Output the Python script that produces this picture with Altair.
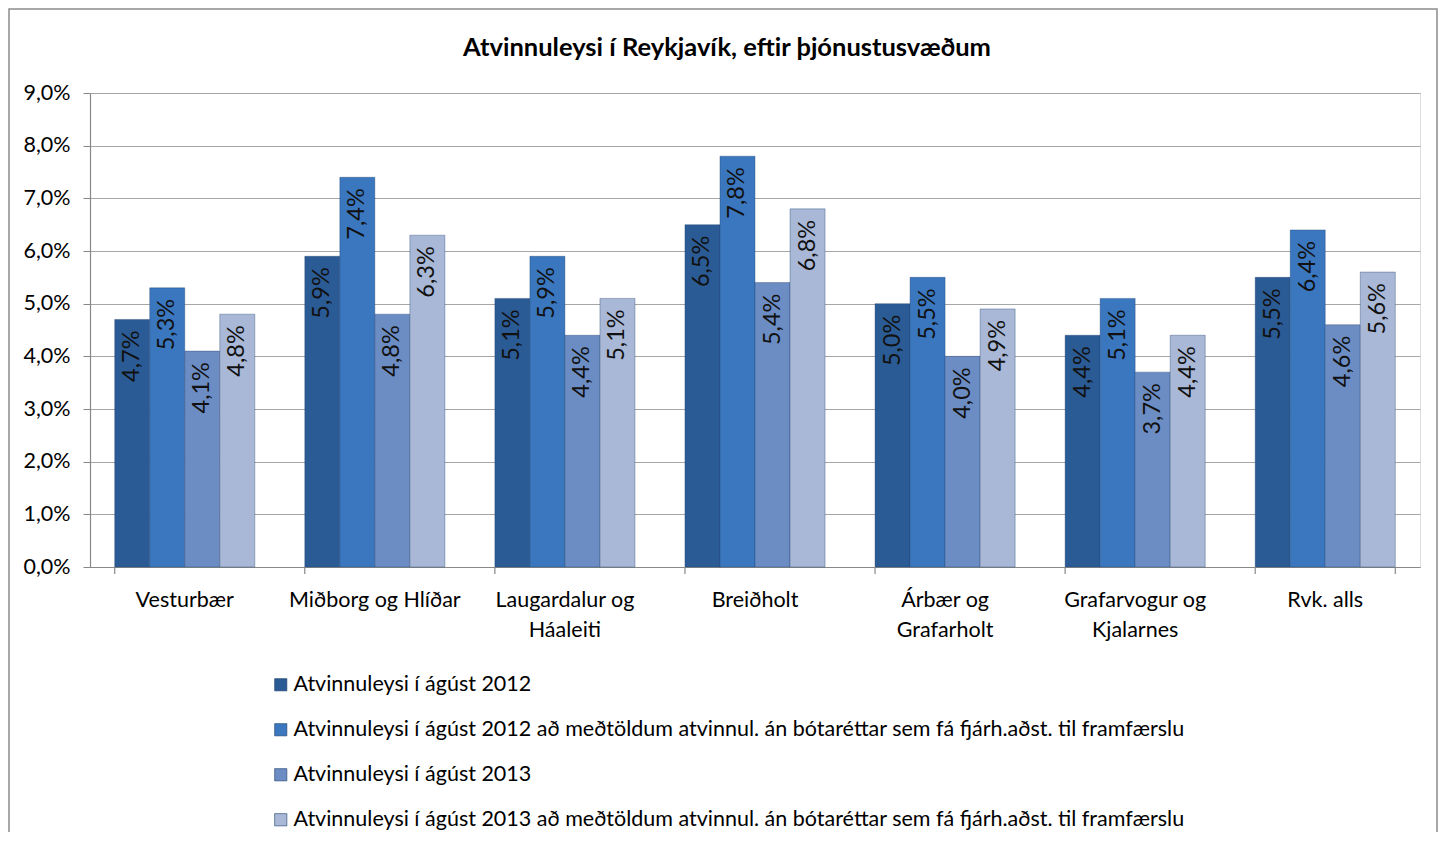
import altair as alt
import pandas as pd

FONT = "Lato"

categories = ["Vesturbær", "Miðborg og Hlíðar", "Laugardalur og|Háaleiti", "Breiðholt",
              "Árbær og|Grafarholt", "Grafarvogur og|Kjalarnes", "Rvk. alls"]
series = [
    "Atvinnuleysi í ágúst 2012",
    "Atvinnuleysi í ágúst 2012 að meðtöldum atvinnul. án bótaréttar sem fá fjárh.aðst. til framfærslu",
    "Atvinnuleysi í ágúst 2013",
    "Atvinnuleysi í ágúst 2013 að meðtöldum atvinnul. án bótaréttar sem fá fjárh.aðst. til framfærslu",
]
s2012 = [4.7, 5.9, 5.1, 6.5, 5.0, 4.4, 5.5]
s2012b = [5.3, 7.4, 5.9, 7.8, 5.5, 5.1, 6.4]
s2013 = [4.1, 4.8, 4.4, 5.4, 4.0, 3.7, 4.6]
s2013b = [4.8, 6.3, 5.1, 6.8, 4.9, 4.4, 5.6]
colors = ["#2B5B95", "#3A77BF", "#6C8DC4", "#A8B8D6"]
y_ticks = [0, 1, 2, 3, 4, 5, 6, 7, 8, 9]

rows = []
for si, vals in enumerate([s2012, s2012b, s2013, s2013b]):
    for ci, v in enumerate(vals):
        rows.append({"cat": categories[ci], "series": series[si], "value": v,
                     "label": f"{v:.1f}".replace(".", ",") + "%"})
df = pd.DataFrame(rows)

base = alt.Chart(df)

x_enc = alt.X("cat:N", sort=categories,
              scale=alt.Scale(paddingInner=0.263, paddingOuter=0.13),
              axis=alt.Axis(title=None, labelAngle=0, labelFontSize=21.5, labelFont=FONT,
                            labelColor="#000000", labelLineHeight=30,
                            labelExpr="split(datum.label, '|')", labelPadding=22,
                            ticks=False, domainColor="#888888", domainWidth=1.2,
                            labelBaseline="top"))
xo_enc = alt.XOffset("series:N", sort=series, scale=alt.Scale(paddingInner=0.0, paddingOuter=0.0))
y_enc = alt.Y("value:Q", scale=alt.Scale(domain=[0, 9], nice=False, zero=True),
              axis=alt.Axis(title=None, values=y_ticks, grid=True, gridColor="#a6a6a6",
                            gridWidth=1.2, tickSize=7, tickColor="#888888",
                            domainColor="#888888", domainWidth=1.2,
                            labelFontSize=21.5, labelFont=FONT, labelColor="#000000",
                            labelPadding=13,
                            labelExpr="replace(format(datum.value, '.1f'), '.', ',') + '%'"))

bars = base.mark_bar(stroke="#1f3f6a", strokeWidth=0.6, strokeOpacity=0.6).encode(
    x=x_enc, xOffset=xo_enc, y=y_enc,
    color=alt.Color("series:N", sort=series,
                    scale=alt.Scale(domain=series, range=colors),
                    legend=alt.Legend(title=None, orient="none", legendX=180, legendY=581,
                                      direction="vertical", symbolType="square",
                                      symbolSize=150, symbolStrokeColor="#1f3f6a",
                                      symbolStrokeWidth=0.6,
                                      labelFontSize=21.5, labelFont=FONT, labelColor="#000000",
                                      labelLimit=1200, rowPadding=22, labelOffset=2)),
)

texts = base.mark_text(angle=270, align="right", baseline="middle", dx=-11,
                       fontSize=23.5, font=FONT, color="#111111").encode(
    x=alt.X("cat:N", sort=categories), xOffset=alt.XOffset("series:N", sort=series),
    y=alt.Y("value:Q"), text="label:N")

tick_df = pd.DataFrame({"cat": categories})
sep_ticks = alt.Chart(tick_df).mark_rule(color="#888888", strokeWidth=1.2).encode(
    x=alt.X("cat:N", sort=categories, bandPosition=0),
    y=alt.value(474), y2=alt.value(481))
end_tick = alt.Chart(tick_df.tail(1)).mark_rule(color="#888888", strokeWidth=1.2).encode(
    x=alt.X("cat:N", sort=categories, bandPosition=1),
    y=alt.value(474), y2=alt.value(481))

frame = alt.Chart(pd.DataFrame({"f": [0]})).mark_rect(
    fill=None, stroke="#8c8c8c", strokeWidth=1.5).encode(
    x=alt.value(-81), x2=alt.value(1347), y=alt.value(-84), y2=alt.value(800))

chart = alt.layer(frame, bars, texts, sep_ticks, end_tick).properties(
    width=1330, height=474,
    title=alt.TitleParams("Atvinnuleysi í Reykjavík, eftir þjónustusvæðum",
                          fontSize=25.5, fontWeight="bold", font=FONT, color="#000000",
                          anchor="middle", dx=-28, offset=-53),
    autosize=alt.AutoSizeParams(type="none"),
    padding={"left": 82, "top": 85, "right": 19, "bottom": 265},
).configure_view(stroke=None).configure(background="#ffffff")

chart.save("out.html", embed_options={"renderer": "svg", "actions": False})
